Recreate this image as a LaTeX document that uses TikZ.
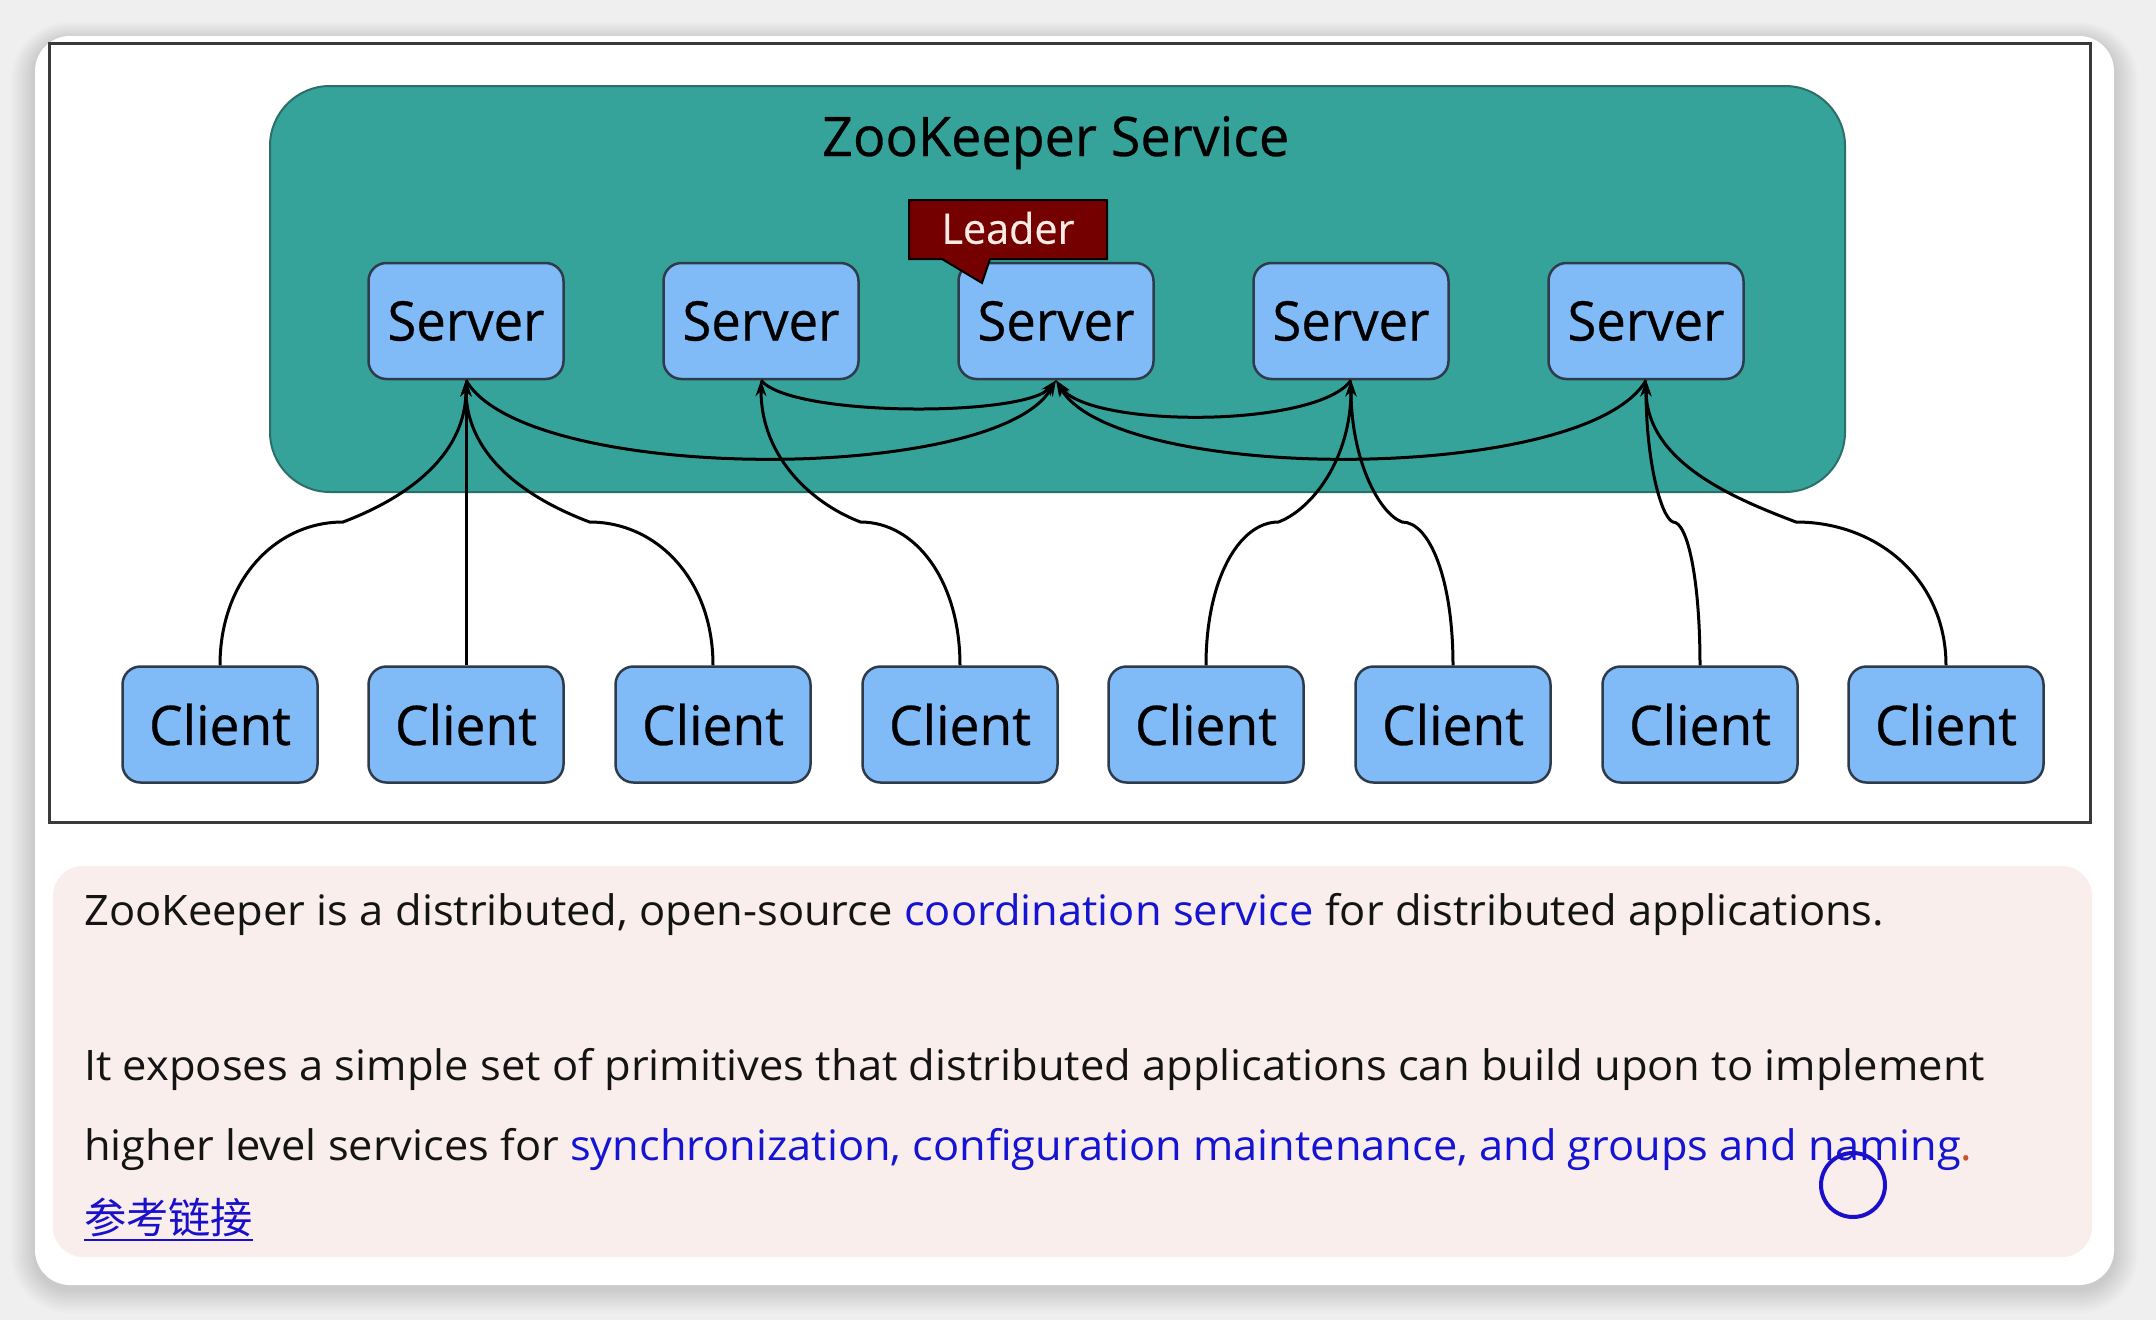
\documentclass[tikz,border=0pt]{standalone}
\usepackage{fontspec}
\usepackage{graphicx}
\setmainfont{Open Sans}
\newfontfamily\labelfont[FakeBold=0.5]{Open Sans}
\newfontfamily\cjk{Noto Sans CJK SC}
\usetikzlibrary{arrows.meta}
\definecolor{tealfill}{HTML}{36A39B}
\definecolor{tealline}{HTML}{2A6F69}
\definecolor{boxblue}{HTML}{80BBF7}
\definecolor{boxline}{HTML}{2E3B4A}
\definecolor{leadred}{HTML}{750000}
\definecolor{leadtext}{HTML}{FBEAE3}
\definecolor{notefill}{HTML}{F9EEEB}
\definecolor{textblue}{HTML}{1414D2}
\definecolor{linkblue}{HTML}{1A10CC}
\definecolor{dotred}{HTML}{C8552A}
\definecolor{bggray}{HTML}{EFEFEF}
\definecolor{textblack}{HTML}{141414}
\definecolor{framegray}{HTML}{3A3A3A}
\newcommand{\wfit}[2]{\resizebox{#1}{\height}{#2}}
\begin{document}
\begin{tikzpicture}[x=1pt,y=-1pt,
  boxnode/.style={draw=boxline, line width=2.5pt, fill=boxblue, rounded corners=18pt,
    minimum width=195pt, minimum height=116pt, inner sep=0pt,
    font=\labelfont\fontsize{54.6}{60}\selectfont, text=black},
  conn/.style={draw=black, line width=3pt, -{Stealth[length=16pt,width=11pt]}},
  bodytext/.style={anchor=base west, inner sep=0pt, font=\fontsize{42}{50}\selectfont, text=textblack}]
\useasboundingbox (0,0) rectangle (2156,1320);
% background and card shadow
\fill[bggray] (0,0) rectangle (2156,1320);
\foreach \i in {1,...,12}{
  \pgfmathsetmacro\rr{35+2*\i}
  \fill[black,opacity=0.013,rounded corners=\rr pt] ({35-2*\i},{40-1.5*\i}) rectangle ({2114+2*\i},{1289+2*\i});
}
\fill[white, rounded corners=35pt] (35,36) rectangle (2114,1285);
% diagram frame
\draw[framegray, line width=3pt] (49,43) rectangle (2090,822);
% ZooKeeper service box
\draw[tealline, line width=2pt, fill=tealfill, rounded corners=60pt] (270,86) rectangle (1845,492);
\node[anchor=base west, inner sep=0pt, font=\labelfont\fontsize{54.6}{60}\selectfont, text=black] (title) at (822,156) {\wfit{467pt}{ZooKeeper Service}};
% servers
\foreach \n/\x in {1/466, 2/761, 3/1056, 4/1351, 5/1646}{
  \node[boxnode] (s\n) at (\x,321) {\wfit{157pt}{Server}};
}
% clients
\foreach \n/\x in {1/220, 2/466, 3/713, 4/960, 5/1206, 6/1453, 7/1700, 8/1946}{
  \node[boxnode] (c\n) at (\x,724.5) {\wfit{142pt}{Client}};
}
% leader callout
\draw[black, line width=2pt, fill=leadred] (909,200) -- (1107,200) -- (1107,259) -- (990,259) -- (982,283) -- (942,259) -- (909,259) -- cycle;
\node[inner sep=0pt, font=\labelfont\fontsize{42}{48}\selectfont, text=leadtext] (leader) at (1008,228) {\wfit{133pt}{Leader}};
% server-server connectors (towards leader)
\draw[conn] (s1.south) .. controls +(60,104) and +(-60,104) .. (s3.south);
\draw[conn] (s2.south) .. controls +(30,37) and +(-30,37) .. (s3.south);
\draw[conn] (s4.south) .. controls +(-34,48) and +(34,48) .. (s3.south);
\draw[conn] (s5.south) .. controls +(-60,104) and +(60,104) .. (s3.south);
% client-server connectors
\draw[conn] (c2.north) -- (s1.south);
\foreach \c/\s/\mx/\d/\h in {1/1/343/1/123, 3/1/589.5/-1/123.5, 4/2/860.5/-1/99.5, 5/4/1278.5/1/72.5, 6/4/1402/-1/51, 7/5/1673/-1/27, 8/5/1796/-1/150}{
  \coordinate (m\c) at (\mx,522);
  \draw[conn] (c\c.north) .. controls +(0,-85) and +({-\d*0.55*\h},0) .. (m\c) .. controls +({\d*0.45*\h},{-0.17*\h}) and +(0,80) .. (s\s.south);
}
% note box
\fill[notefill, rounded corners=30pt] (53,866) rectangle (2092,1257);
\node[bodytext] (t1) at (84,925) {\wfit{1800pt}{ZooKeeper is a distributed, open-source \textcolor{textblue}{coordination service} for distributed applications.}};
\node[bodytext] (t2) at (84,1080) {\wfit{1901pt}{It exposes a simple set of primitives that distributed applications can build upon to implement}};
\node[bodytext] (t3) at (84,1160) {\wfit{1888pt}{higher level services for \textcolor{textblue}{synchronization, configuration maintenance, and groups and naming}\textcolor{dotred}{.}}};
\node[anchor=base west, inner sep=0pt, font=\cjk\fontsize{42}{48}\selectfont, text=linkblue] (t4) at (84,1233) {\wfit{169pt}{参考链接}};
\draw[linkblue, line width=2.5pt] ([yshift=-7pt]t4.base west) -- ([yshift=-7pt]t4.base east);
% cursor ring
\node[draw=linkblue, line width=4pt, circle, minimum size=64pt, inner sep=0pt] (ring) at (1853,1185) {};
\end{tikzpicture}
\end{document}
